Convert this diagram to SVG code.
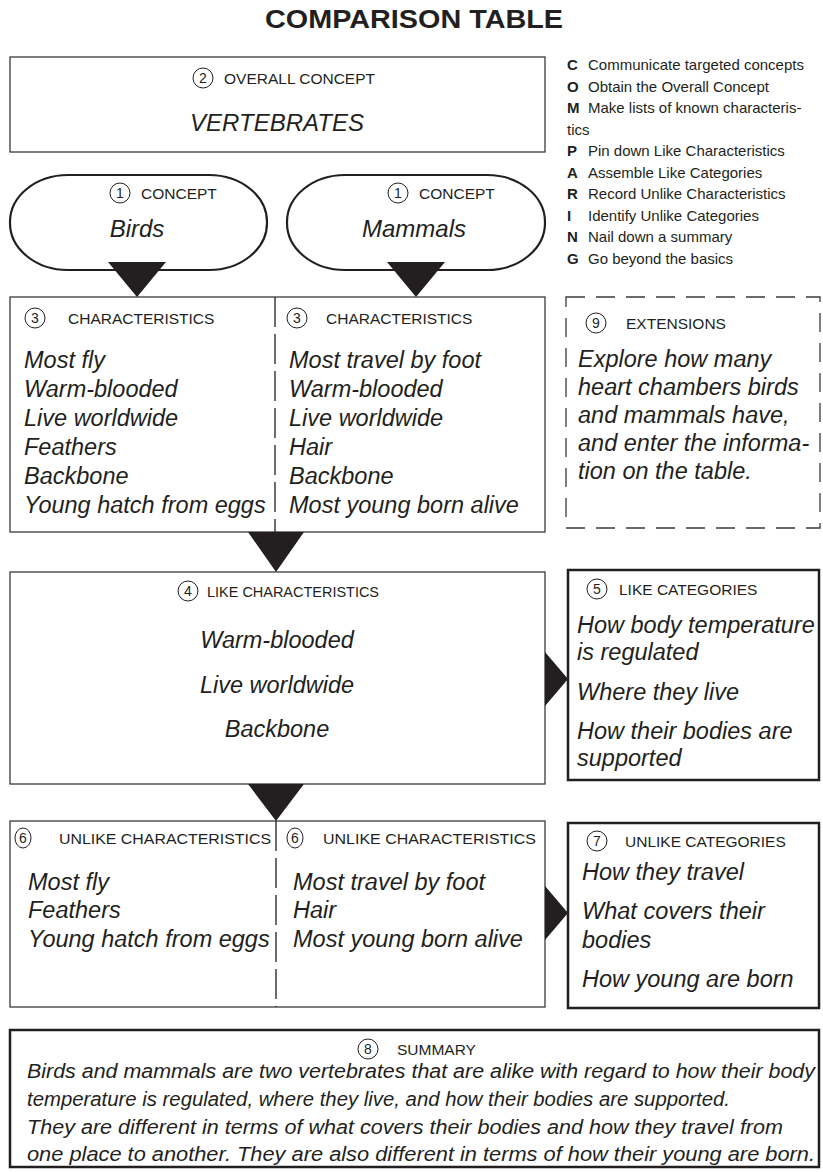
<svg xmlns="http://www.w3.org/2000/svg" width="823" height="1172" viewBox="0 0 823 1172">
<style>
text{font-family:"Liberation Sans",Arial,sans-serif;fill:#231f20}
.title{font-size:25px;font-weight:bold}
.lbl{font-size:15.5px}
.num{font-size:14px;text-anchor:middle}
.it{font-size:23.5px;font-style:italic}
.big{font-size:24px;font-style:italic}
.sum{font-size:19.5px;font-style:italic}
.leg{font-size:15px}
.legb{font-size:15px;font-weight:bold}
.box{fill:#fff;stroke:#3a3a3a;stroke-width:1.3}
.thick{fill:#fff;stroke:#231f20;stroke-width:2.5}
.pill{fill:#fff;stroke:#231f20;stroke-width:2.2}
.nc{fill:#fff;stroke:#231f20;stroke-width:1}
.div{stroke:#231f20;stroke-width:1.3;stroke-dasharray:30 7;fill:none}
.dash{fill:#fff;stroke:#3a3a3a;stroke-width:1.3;stroke-dasharray:19 11}
.arr{fill:#231f20}
</style>

<text class="title" x="414" y="28" text-anchor="middle" textLength="298" lengthAdjust="spacingAndGlyphs">COMPARISON TABLE</text>

<g id="legend">
<text class="legb" x="567" y="70">C</text><text class="leg" x="588" y="70">Communicate targeted concepts</text>
<text class="legb" x="567" y="91.5">O</text><text class="leg" x="588" y="91.5">Obtain the Overall Concept</text>
<text class="legb" x="567" y="113">M</text><text class="leg" x="588" y="113">Make lists of known characteris-</text>
<text class="leg" x="567" y="134.5">tics</text>
<text class="legb" x="567" y="156">P</text><text class="leg" x="588" y="156">Pin down Like Characteristics</text>
<text class="legb" x="567" y="177.5">A</text><text class="leg" x="588" y="177.5">Assemble Like Categories</text>
<text class="legb" x="567" y="199">R</text><text class="leg" x="588" y="199">Record Unlike Characteristics</text>
<text class="legb" x="567" y="220.5">I</text><text class="leg" x="588" y="220.5">Identify Unlike Categories</text>
<text class="legb" x="567" y="242">N</text><text class="leg" x="588" y="242">Nail down a summary</text>
<text class="legb" x="567" y="263.5">G</text><text class="leg" x="588" y="263.5">Go beyond the basics</text>
</g>

<g id="overall">
<rect class="box" x="10" y="57" width="535" height="95"/>
<circle class="nc" cx="203" cy="78" r="10"/><text class="num" x="203" y="83">2</text>
<text class="lbl" x="224" y="84">OVERALL CONCEPT</text>
<text class="big" x="277" y="131" text-anchor="middle">VERTEBRATES</text>
</g>

<g id="concept-birds">
<rect class="pill" x="10" y="175" width="257" height="95" rx="58" ry="47"/>
<circle class="nc" cx="120" cy="193" r="10"/><text class="num" x="120" y="198">1</text>
<text class="lbl" x="141" y="199">CONCEPT</text>
<text class="big" x="137" y="237" text-anchor="middle">Birds</text>
</g>
<g id="concept-mammals">
<rect class="pill" x="287" y="175" width="258" height="95" rx="58" ry="47"/>
<circle class="nc" cx="398" cy="193" r="10"/><text class="num" x="398" y="198">1</text>
<text class="lbl" x="419" y="199">CONCEPT</text>
<text class="big" x="414" y="237" text-anchor="middle">Mammals</text>
</g>

<g id="characteristics">
<rect class="box" x="10" y="297" width="535" height="235"/>
<line class="div" x1="275" y1="297" x2="275" y2="532"/>
<circle class="nc" cx="35" cy="318" r="10"/><text class="num" x="35" y="323">3</text>
<text class="lbl" x="68" y="323.5">CHARACTERISTICS</text>
<circle class="nc" cx="297" cy="318" r="10"/><text class="num" x="297" y="323">3</text>
<text class="lbl" x="326" y="323.5">CHARACTERISTICS</text>
<text class="it" x="24" y="368">Most fly</text>
<text class="it" x="24" y="397">Warm-blooded</text>
<text class="it" x="24" y="426">Live worldwide</text>
<text class="it" x="24" y="455">Feathers</text>
<text class="it" x="24" y="484">Backbone</text>
<text class="it" x="24" y="513">Young hatch from eggs</text>
<text class="it" x="289" y="368">Most travel by foot</text>
<text class="it" x="289" y="397">Warm-blooded</text>
<text class="it" x="289" y="426">Live worldwide</text>
<text class="it" x="289" y="455">Hair</text>
<text class="it" x="289" y="484">Backbone</text>
<text class="it" x="289" y="513">Most young born alive</text>
</g>

<g id="extensions">
<rect class="dash" x="566" y="297" width="254" height="231"/>
<circle class="nc" cx="596" cy="323" r="10"/><text class="num" x="596" y="328">9</text>
<text class="lbl" x="626" y="328.5">EXTENSIONS</text>
<text class="it" x="578" y="367">Explore how many</text>
<text class="it" x="578" y="395">heart chambers birds</text>
<text class="it" x="578" y="423">and mammals have,</text>
<text class="it" x="578" y="451">and enter the informa-</text>
<text class="it" x="578" y="479">tion on the table.</text>
</g>

<g id="like-characteristics">
<rect class="box" x="10" y="572" width="535" height="212"/>
<circle class="nc" cx="188" cy="591" r="10"/><text class="num" x="188" y="596">4</text>
<text class="lbl" x="207" y="596.5" textLength="172" lengthAdjust="spacingAndGlyphs">LIKE CHARACTERISTICS</text>
<text class="it" x="277" y="648" text-anchor="middle">Warm-blooded</text>
<text class="it" x="277" y="693" text-anchor="middle">Live worldwide</text>
<text class="it" x="277" y="737" text-anchor="middle">Backbone</text>
</g>

<g id="like-categories">
<rect class="thick" x="568" y="570" width="251" height="210"/>
<circle class="nc" cx="597" cy="589" r="10"/><text class="num" x="597" y="594">5</text>
<text class="lbl" x="619" y="594.5">LIKE CATEGORIES</text>
<text class="it" x="577" y="633">How body temperature</text>
<text class="it" x="577" y="660">is regulated</text>
<text class="it" x="577" y="700">Where they live</text>
<text class="it" x="577" y="739">How their bodies are</text>
<text class="it" x="577" y="766">supported</text>
</g>

<g id="unlike-characteristics">
<rect class="box" x="10" y="821" width="535" height="186"/>
<line class="div" x1="276" y1="821" x2="276" y2="1007"/>
<ellipse class="nc" cx="23" cy="838" rx="8" ry="10"/><text class="num" x="23" y="843">6</text>
<text class="lbl" x="59" y="843.5" textLength="212" lengthAdjust="spacingAndGlyphs">UNLIKE CHARACTERISTICS</text>
<ellipse class="nc" cx="295" cy="838" rx="8" ry="10"/><text class="num" x="295" y="843">6</text>
<text class="lbl" x="323" y="843.5" textLength="213" lengthAdjust="spacingAndGlyphs">UNLIKE CHARACTERISTICS</text>
<text class="it" x="28" y="890">Most fly</text>
<text class="it" x="28" y="918">Feathers</text>
<text class="it" x="28" y="947">Young hatch from eggs</text>
<text class="it" x="293" y="890">Most travel by foot</text>
<text class="it" x="293" y="918">Hair</text>
<text class="it" x="293" y="947">Most young born alive</text>
</g>

<g id="unlike-categories">
<rect class="thick" x="568" y="823" width="251" height="185"/>
<circle class="nc" cx="597" cy="841" r="10"/><text class="num" x="597" y="846">7</text>
<text class="lbl" x="625" y="846.5">UNLIKE CATEGORIES</text>
<text class="it" x="582" y="880">How they travel</text>
<text class="it" x="582" y="919">What covers their</text>
<text class="it" x="582" y="948">bodies</text>
<text class="it" x="582" y="987">How young are born</text>
</g>

<g id="summary">
<rect class="thick" x="10" y="1030" width="809" height="137"/>
<circle class="nc" cx="368" cy="1049" r="10"/><text class="num" x="368" y="1054">8</text>
<text class="lbl" x="397" y="1054.5">SUMMARY</text>
<text class="sum" x="27" y="1078" textLength="788" lengthAdjust="spacingAndGlyphs">Birds and mammals are two vertebrates that are alike with regard to how their body</text>
<text class="sum" x="27" y="1106" textLength="703" lengthAdjust="spacingAndGlyphs">temperature is regulated, where they live, and how their bodies are supported.</text>
<text class="sum" x="27" y="1134" textLength="756" lengthAdjust="spacingAndGlyphs">They are different in terms of what covers their bodies and how they travel from</text>
<text class="sum" x="27" y="1161" textLength="788" lengthAdjust="spacingAndGlyphs">one place to another. They are also different in terms of how their young are born.</text>
</g>

<g id="connectors">
<polygon class="arr" points="108,262 166,262 137,297"/>
<polygon class="arr" points="387,262 445,262 416,297"/>
<polygon class="arr" points="248,532 304,532 276,572"/>
<polygon class="arr" points="248,784 304,784 276,821"/>
<polygon class="arr" points="545,652 545,706 568,679"/>
<polygon class="arr" points="545,886 545,940 568,913"/>
</g>
</svg>
